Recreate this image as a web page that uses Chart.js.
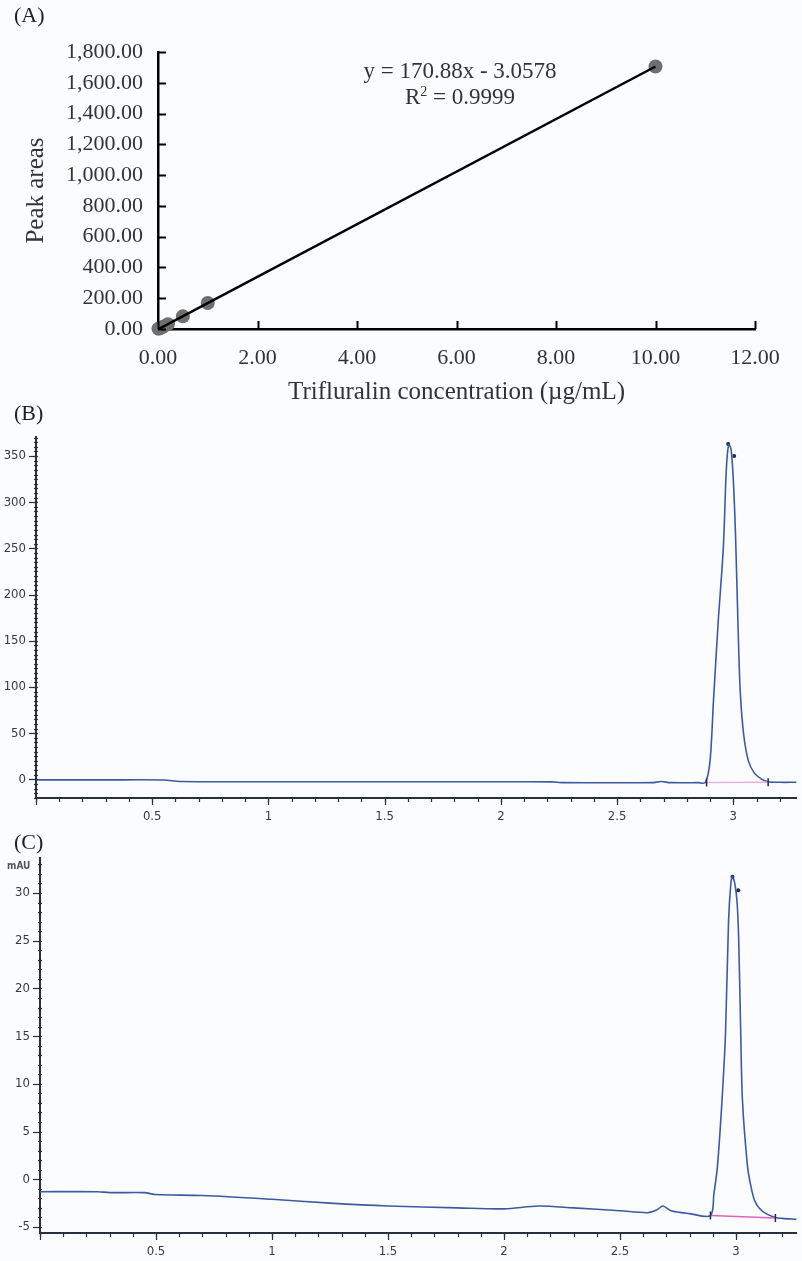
<!DOCTYPE html>
<html>
<head>
<meta charset="utf-8">
<script src="https://cdn.jsdelivr.net/npm/chart.js@4.4.1/dist/chart.umd.min.js"></script>
<style>
  html, body { margin: 0; padding: 0; background: #fbfcfe; }
  #page { position: relative; width: 802px; height: 1261px; overflow: hidden; background: #fbfcfe; }
  canvas { position: absolute; left: 0; }
  .panel-label { position: absolute; left: 14px; font: 22px 'Liberation Serif', serif; line-height: 24px; color: #222; z-index: 2; }
  .eq { position: absolute; left: 330px; width: 260px; text-align: center; font: 23px 'Liberation Serif', serif; line-height: 26px; color: #333; z-index: 2; }
  .eq sup { font-size: 14px; vertical-align: 8px; line-height: 0; }
  #mau { position: absolute; left: 7px; top: 860px; font: bold 10px 'Liberation Sans Narrow', 'DejaVu Sans Condensed', sans-serif; color: #555; z-index: 2; }
</style>
</head>
<body>
<div id="page">
  <div class="panel-label" style="top:3px">(A)</div>
  <canvas id="chartA" width="802" height="410" style="top:0"></canvas>
  <div class="eq" style="top:58px">y = 170.88x - 3.0578</div>
  <div class="eq" style="top:84px">R<sup>2</sup> = 0.9999</div>

  <div class="panel-label" style="top:401px">(B)</div>
  <canvas id="chartB" width="802" height="425" style="top:400px"></canvas>

  <div class="panel-label" style="top:830px">(C)</div>
  <div id="mau">mAU</div>
  <canvas id="chartC" width="802" height="436" style="top:825px"></canvas>
</div>
<script>
// (A) calibration standards
const concX = [0.01, 0.05, 0.1, 0.2, 0.5, 1.0, 10.0];
const peakArea = [1.2, 5.8, 14.1, 31.4, 82.1, 168.9, 1705.6];
// fitted line end points (y = 170.88x - 3.0578)
const fitX = [0, 10];
const fitY = [-3.06, 1705.74];

// (B) chromatogram of the standard
const timeB = [0, 0.3, 0.55, 0.62, 1.0, 1.5, 2.0, 2.22, 2.26, 2.5, 2.65, 2.69, 2.73, 2.85, 2.88,
  2.9, 2.915, 2.935, 2.957, 2.97, 2.98, 2.99, 3.0, 3.01, 3.02, 3.03, 3.045, 3.065, 3.09, 3.12,
  3.15, 3.2, 3.272];
const signalB = [-0.6, -0.6, -0.7, -2.4, -2.6, -2.6, -2.6, -2.7, -3.6, -3.7, -3.6, -2.4, -3.6, -3.6, -3.4,
  20, 86, 170, 250, 335, 362, 358, 325, 262, 170, 95, 48, 20, 7, 0.5,
  -2.6, -3.2, -3.2];
const baseTimeB = [2.885, 3.15];
const baseSignalB = [-3.4, -3.2];
const markTimeB = [2.978, 3.004];
const markSignalB = [363, 350];

// (C) chromatogram of the sample
const timeC = [0, 0.25, 0.3, 0.45, 0.5, 0.7, 1.0, 1.25, 1.5, 1.8, 2.0, 2.15, 2.3, 2.5, 2.62, 2.66,
  2.685, 2.72, 2.8, 2.89, 2.905, 2.92, 2.94, 2.955, 2.968, 2.978, 2.985, 2.995, 3.005, 3.012,
  3.02, 3.028, 3.05, 3.065, 3.08, 3.1, 3.13, 3.17, 3.2, 3.262];
const signalC = [-1.3, -1.3, -1.4, -1.4, -1.6, -1.7, -2.1, -2.5, -2.8, -3.0, -3.1, -2.8, -3.0, -3.3, -3.5, -3.2,
  -2.8, -3.3, -3.6, -3.8, -1.5, 1.3, 8.3, 15.3, 27, 31, 31.7, 31.0, 29, 25,
  16, 8.3, 1.3, -0.8, -2.2, -3.0, -3.6, -4.0, -4.1, -4.2];
const baseTimeC = [2.89, 3.17];
const baseSignalC = [-3.8, -4.05];
const markTimeC = [2.985, 3.01];
const markSignalC = [31.7, 30.3];

const toXY = (xs, ys) => xs.map((x, i) => ({ x: x, y: ys[i] }));

const serif = 'Liberation Serif';
const narrow = "'Liberation Sans Narrow', 'DejaVu Sans Condensed', sans-serif";

// small tick marks drawn off the library scales
const tickMarks = {
  id: 'tickMarks',
  afterDraw(chart, args, opts) {
    const ctx = chart.ctx;
    ctx.save();
    ctx.strokeStyle = opts.color || '#000';
    ctx.lineWidth = opts.width || 1;
    (opts.marks || []).forEach(m => {
      const s = chart.scales[m.axis];
      const first = Math.ceil(s.min / m.step - 1e-6);
      for (let i = first; i * m.step <= s.max + 1e-9; i++) {
        const p = Math.round(s.getPixelForValue(i * m.step)) + 0.5;
        ctx.beginPath();
        if (m.axis === 'x') {
          ctx.moveTo(p, s.top + m.from);
          ctx.lineTo(p, s.top + m.to);
        } else {
          ctx.moveTo(s.right + m.from, p);
          ctx.lineTo(s.right + m.to, p);
        }
        ctx.stroke();
      }
    });
    ctx.restore();
  }
};

Chart.defaults.animation = false;

new Chart(document.getElementById('chartA'), {
  type: 'scatter',
  data: {
    datasets: [
      {
        type: 'line',
        data: toXY(fitX, fitY),
        borderColor: '#000',
        borderWidth: 2.5,
        pointRadius: 0,
        order: 0,
        clip: false
      },
      {
        data: toXY(concX, peakArea),
        backgroundColor: '#6f6f6f',
        borderWidth: 0,
        pointRadius: 7,
        pointHoverRadius: 7,
        order: 1,
        clip: false
      }
    ]
  },
  options: {
    responsive: false,
    devicePixelRatio: 1,
    layout: { padding: { top: 52, right: 47, left: 0, bottom: 0 } },
    plugins: {
      legend: { display: false },
      tooltip: { enabled: false },
      tickMarks: {
        color: '#000', width: 2,
        marks: [
          { axis: 'x', step: 2, from: 0, to: -8 },
          { axis: 'y', step: 200, from: 0, to: 8 }
        ]
      }
    },
    scales: {
      x: {
        type: 'linear', min: 0, max: 12,
        afterFit(s) { s.height = 81; },
        border: { color: '#000', width: 2.5 },
        grid: { display: false, drawTicks: false },
        ticks: {
          stepSize: 2, padding: 16, color: '#333',
          font: { family: serif, size: 22 },
          callback: v => v.toFixed(2)
        },
        title: {
          display: true, text: 'Trifluralin concentration (µg/mL)', color: '#333',
          font: { family: serif, size: 25 }, padding: { top: 0, bottom: 3 }
        }
      },
      y: {
        min: 0, max: 1800,
        afterFit(s) { s.width = 158; },
        border: { color: '#000', width: 2.5 },
        grid: { display: false, drawTicks: false },
        ticks: {
          stepSize: 200, padding: 15, color: '#333',
          font: { family: serif, size: 22 },
          callback: v => v.toLocaleString('en-US', { minimumFractionDigits: 2, maximumFractionDigits: 2 })
        },
        title: {
          display: true, text: 'Peak areas', color: '#333',
          font: { family: serif, size: 25 }, padding: { top: 21, bottom: 0 }
        }
      }
    }
  },
  plugins: [tickMarks]
});

function chromatogram(id, o) {
  return new Chart(document.getElementById(id), {
    type: 'scatter',
    data: {
      datasets: [
        {
          data: toXY(o.base[0], o.base[1]),
          showLine: true,
          borderColor: o.baseColor,
          borderWidth: 1.5,
          pointStyle: 'line',
          rotation: 90,
          pointRadius: 4,
          pointBorderColor: '#1f2a44',
          pointBorderWidth: 1.5
        },
        {
          data: toXY(o.time, o.signal),
          showLine: true,
          borderColor: '#3d5aa0',
          borderWidth: 1.6,
          pointRadius: 0,
          tension: 0.3
        },
        {
          data: toXY(o.marks[0], o.marks[1]),
          backgroundColor: '#1f2a55',
          borderWidth: 0,
          pointRadius: 2
        }
      ]
    },
    options: {
      responsive: false,
      devicePixelRatio: 1,
      layout: { padding: { top: o.padTop, right: o.padRight, left: 0, bottom: 0 } },
      plugins: {
        legend: { display: false },
        tooltip: { enabled: false },
        tickMarks: {
          color: '#2a2f3a', width: 1.2,
          marks: [
            { axis: 'x', step: 0.1, from: 0, to: 4 },
            { axis: 'x', step: 0.5, from: 0, to: 7 },
            { axis: 'y', step: o.yMinor, from: -2, to: 2 },
            { axis: 'y', step: o.yStep, from: 0, to: -7 }
          ]
        }
      },
      scales: {
        x: {
          type: 'linear', min: 0, max: o.xMax,
          afterFit(s) { s.height = o.xHeight; },
          border: { color: '#2a2f3a', width: 2 },
          grid: { display: false, drawTicks: false },
          ticks: {
            stepSize: 0.5, includeBounds: false, padding: 11, color: '#3a3a3a',
            font: { family: narrow, size: 13 },
            maxRotation: 0,
            callback: v => (v === 0 ? '' : String(v))
          }
        },
        y: {
          min: o.yMin, max: o.yMax,
          afterFit(s) { s.width = o.yWidth; },
          border: { color: '#2a2f3a', width: 2 },
          grid: { display: false, drawTicks: false },
          ticks: {
            stepSize: o.yStep, includeBounds: false, padding: 10, color: '#3a3a3a',
            font: { family: narrow, size: 13 }
          }
        }
      }
    },
    plugins: [tickMarks]
  });
}

chromatogram('chartB', {
  time: timeB, signal: signalB,
  base: [baseTimeB, baseSignalB], baseColor: '#e6b2da',
  marks: [markTimeB, markSignalB],
  xMax: 3.272, yMin: -20.2, yMax: 370.6, yStep: 50, yMinor: 5,
  padTop: 37, padRight: 2, xHeight: 27, yWidth: 36
});

chromatogram('chartC', {
  time: timeC, signal: signalC,
  base: [baseTimeC, baseSignalC], baseColor: '#e062b8',
  marks: [markTimeC, markSignalC],
  xMax: 3.261, yMin: -5.63, yMax: 33.67, yStep: 5, yMinor: 1,
  padTop: 33, padRight: 0, xHeight: 28, yWidth: 40
});
</script>
</body>
</html>
